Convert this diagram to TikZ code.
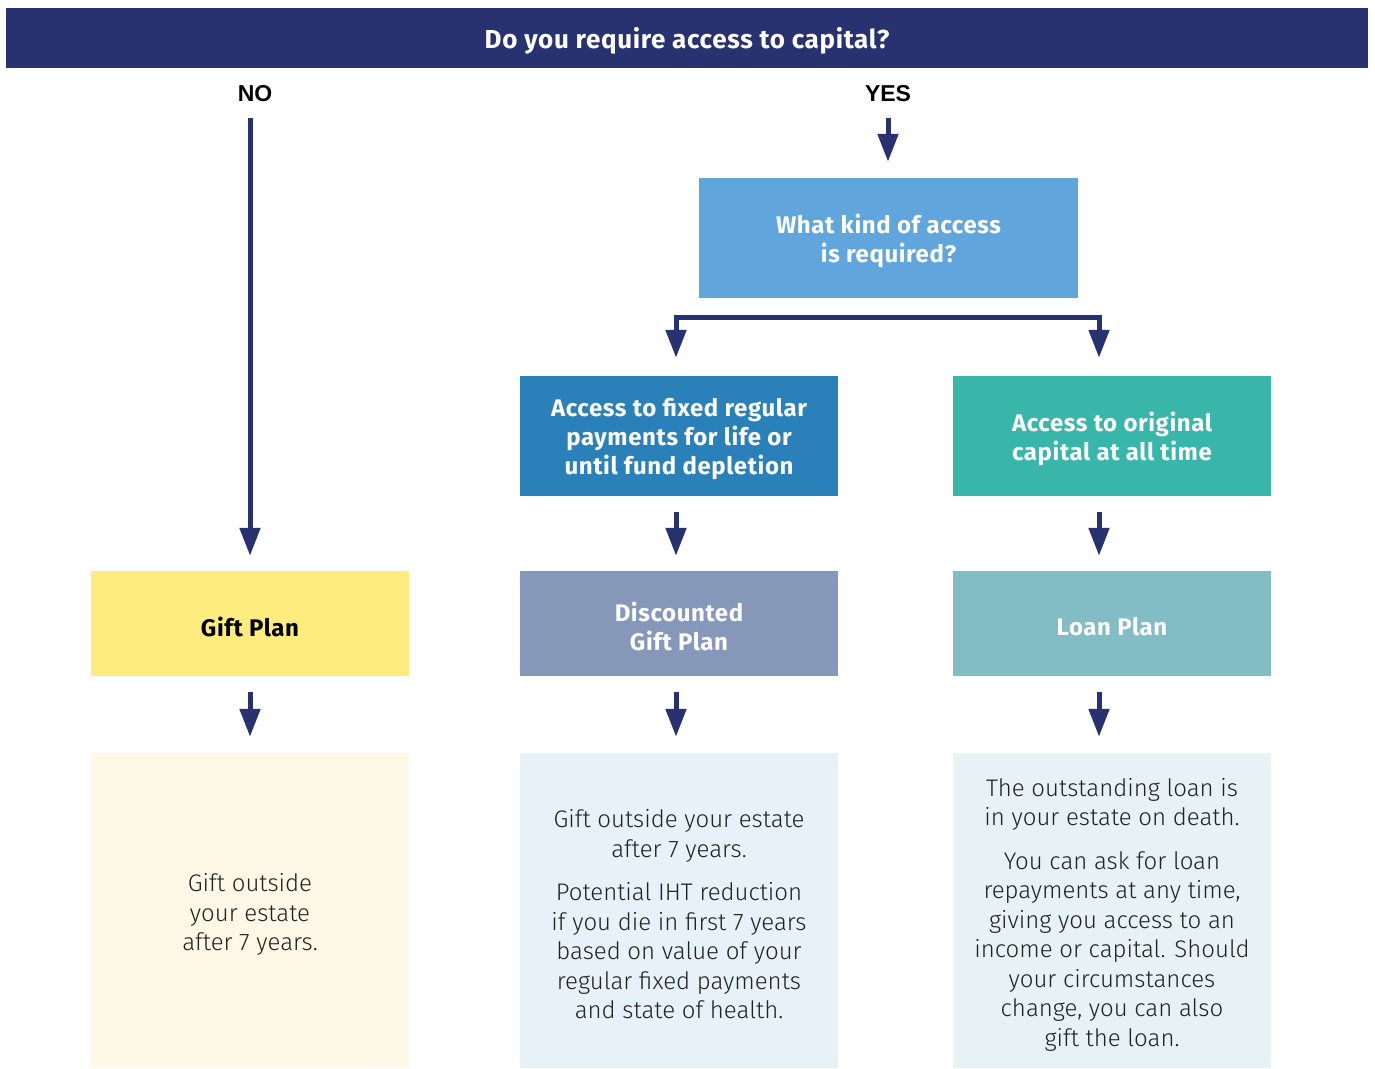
\documentclass[tikz,border=0pt]{standalone}
\usepackage{fontspec}
\setmainfont{Fira Sans}
\newfontfamily\headf[LetterSpace=2.5]{Fira Sans}
\newfontfamily\lightf{Fira Sans Light}
\newfontfamily\arialf{Liberation Sans}
\usetikzlibrary{arrows.meta}
\definecolor{navy}{RGB}{40,50,112}
\definecolor{qblue}{RGB}{96,165,220}
\definecolor{fixblue}{RGB}{42,128,185}
\definecolor{teal}{RGB}{56,182,170}
\definecolor{giftyel}{RGB}{254,236,126}
\definecolor{discgray}{RGB}{133,152,186}
\definecolor{loanteal}{RGB}{130,188,196}
\definecolor{b1col}{RGB}{254,248,230}
\definecolor{b2col}{RGB}{230,241,248}
\definecolor{b3col}{RGB}{230,242,244}
\definecolor{txt}{RGB}{34,34,34}
\tikzset{
  box/.style={inner sep=0pt},
  colbox/.style={box, minimum width=318pt, minimum height=120pt},
  planbox/.style={box, minimum width=318pt, minimum height=105pt},
  infobox/.style={box, minimum width=318pt, minimum height=315pt},
  headtxt/.style={inner sep=0pt, align=center, font=\headf\bfseries\fontsize{24}{29}\selectfont, text=white, yshift=-3pt},
  infotxt/.style={inner sep=0pt, align=center, text=txt, font=\lightf\fontsize{24}{29.5}\selectfont, yshift=-4pt},
  lbl/.style={font=\arialf\bfseries\fontsize{23}{28}\selectfont, text=black, inner sep=0pt},
  arr/.style={draw=navy, line width=5pt, -{Triangle[width=20pt,length=28pt]}},
  arrb/.style={draw=navy, line width=5pt, line join=miter, {Triangle[width=20pt,length=28pt]}-{Triangle[width=20pt,length=28pt]}}
}
\begin{document}
\begin{tikzpicture}[x=1pt,y=-1pt]
\useasboundingbox (0,0) rectangle (1375,1068);
% boxes
\node[box, fill=navy, minimum width=1362pt, minimum height=60pt] (title) at (687,38) {};
\node[box, fill=qblue, minimum width=379pt, minimum height=120pt] (q) at (888.5,238) {};
\node[colbox, fill=fixblue] (fixed) at (679,436) {};
\node[colbox, fill=teal] (orig) at (1112,436) {};
\node[planbox, fill=giftyel] (gift) at (250,623.5) {};
\node[planbox, fill=discgray] (disc) at (679,623.5) {};
\node[planbox, fill=loanteal] (loan) at (1112,623.5) {};
\node[infobox, fill=b1col] (b1) at (250,910.5) {};
\node[infobox, fill=b2col] (b2) at (679,910.5) {};
\node[infobox, fill=b3col] (b3) at (1112,910.5) {};
% texts
\node[headtxt, font=\headf\bfseries\fontsize{26}{30}\selectfont] (titletxt) at (title.center) {Do you require access to capital?};
\node[lbl] (no) at (255,94) {NO};
\node[lbl] (yes) at (888,94) {YES};
\node[headtxt] (qtxt) at (q.center) {What kind of access\\is required?};
\node[headtxt] (fixedtxt) at (fixed.center) {Access to fixed regular\\payments for life or\\until fund depletion};
\node[headtxt] (origtxt) at (orig.center) {Access to original\\capital at all time};
\node[headtxt, text=black] (gifttxt) at (gift.center) {Gift Plan};
\node[headtxt] (disctxt) at (disc.center) {Discounted\\Gift Plan};
\node[headtxt] (loantxt) at (loan.center) {Loan Plan};
\node[infotxt] (b1txt) at (b1.center) {Gift outside\\your estate\\after 7 years.};
\node[infotxt] (b2txt) at (b2.center) {Gift outside your estate\\after 7 years.\\[14pt]Potential IHT reduction\\if you die in first 7 years\\based on value of your\\regular fixed payments\\and state of health.};
\node[infotxt] (b3txt) at (b3.center) {The outstanding loan is\\in your estate on death.\\[14pt]You can ask for loan\\repayments at any time,\\giving you access to an\\income or capital. Should\\your circumstances\\change, you can also\\gift the loan.};
\coordinate (cl) at (250,0);
\coordinate (cm) at (676,0);
\coordinate (cr) at (1099,0);
\coordinate (cy) at (888,0);
% NO branch
\draw[arr] (cl |- 0,118) -- ([yshift=15pt]gift.north -| cl);
\draw[arr] ([yshift=-16pt]gift.south -| cl) -- ([yshift=16pt]b1.north -| cl);
% YES branch
\draw[arr] (cy |- 0,118) -- ([yshift=16pt]q.north -| cy);
\draw[arrb] ([yshift=18pt]fixed.north -| cm) |- ([yshift=-19pt]q.south) -| ([yshift=18pt]orig.north -| cr);
\draw[arr] ([yshift=-16pt]fixed.south -| cm) -- ([yshift=15pt]disc.north -| cm);
\draw[arr] ([yshift=-16pt]orig.south -| cr) -- ([yshift=15pt]loan.north -| cr);
\draw[arr] ([yshift=-16pt]disc.south -| cm) -- ([yshift=16pt]b2.north -| cm);
\draw[arr] ([yshift=-16pt]loan.south -| cr) -- ([yshift=16pt]b3.north -| cr);
\end{tikzpicture}
\end{document}
